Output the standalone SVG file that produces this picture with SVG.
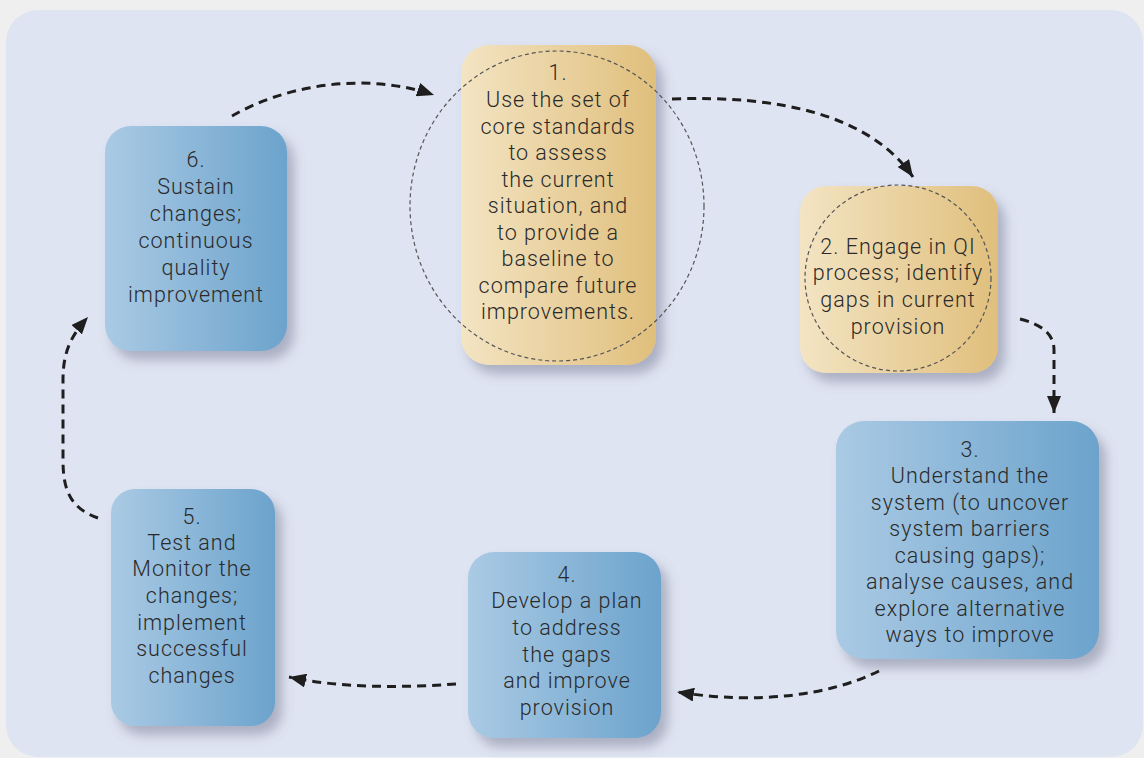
<svg xmlns="http://www.w3.org/2000/svg" width="1144" height="758" viewBox="0 0 1144 758">
<defs>
<linearGradient id="gold" x1="0" y1="0" x2="1" y2="0"><stop offset="0" stop-color="#f3e4c3"/><stop offset="1" stop-color="#e0bf7c"/></linearGradient>
<linearGradient id="blue" x1="0" y1="0" x2="1" y2="0"><stop offset="0" stop-color="#aacae4"/><stop offset="1" stop-color="#6ca3cc"/></linearGradient>
<filter id="sh" x="-20%" y="-20%" width="150%" height="150%"><feDropShadow dx="7" dy="9" stdDeviation="6" flood-color="#6a7088" flood-opacity="0.45"/></filter>
<marker id="ah" viewBox="0 0 17 14" refX="17" refY="7" markerWidth="17" markerHeight="14" markerUnits="userSpaceOnUse" orient="auto"><path d="M0,0 L17,7 L0,14 Z" fill="#1e1e1e"/></marker>
</defs>
<style>
.t{font-family:Roboto,"Noto Sans",sans-serif;font-size:21.5px;letter-spacing:1px;fill:#2a2a2a;text-anchor:middle;font-weight:300}
.c{fill:none;stroke:#1e1e1e;stroke-width:3;stroke-dasharray:9 6;marker-end:url(#ah)}
.ring{fill:none;stroke:#555;stroke-width:1.2;stroke-dasharray:4 3}
</style>
<rect width="1144" height="758" fill="#efefef"/>
<rect x="6" y="10" width="1137" height="747" rx="32" fill="#dfe4f2"/>
<g id="n1">
<rect x="461" y="45" width="195" height="320" rx="28" fill="url(#gold)" filter="url(#sh)"/>
<ellipse cx="557" cy="206" rx="147" ry="155" class="ring"/>
<text class="t"><tspan x="558" y="80">1.</tspan><tspan x="558" y="107">Use the set of</tspan><tspan x="558" y="134">core standards</tspan><tspan x="558" y="160">to assess</tspan><tspan x="558" y="187">the current</tspan><tspan x="558" y="213">situation, and</tspan><tspan x="558" y="240">to provide a</tspan><tspan x="558" y="266">baseline to</tspan><tspan x="558" y="293">compare future</tspan><tspan x="558" y="319">improvements.</tspan></text>
</g>
<g id="n2">
<rect x="800" y="186" width="198" height="187" rx="26" fill="url(#gold)" filter="url(#sh)"/>
<circle cx="898" cy="278" r="93" class="ring"/>
<text class="t"><tspan x="898" y="254">2. Engage in QI</tspan><tspan x="898" y="280">process; identify</tspan><tspan x="898" y="307">gaps in current</tspan><tspan x="898" y="334">provision</tspan></text>
</g>
<g id="n3">
<rect x="836" y="421" width="263" height="238" rx="28" fill="url(#blue)" filter="url(#sh)"/>
<text class="t"><tspan x="970" y="457">3.</tspan><tspan x="970" y="483">Understand the</tspan><tspan x="970" y="510">system (to uncover</tspan><tspan x="970" y="536">system barriers</tspan><tspan x="970" y="563">causing gaps);</tspan><tspan x="970" y="589">analyse causes, and</tspan><tspan x="970" y="616">explore alternative</tspan><tspan x="970" y="642">ways to improve</tspan></text>
</g>
<g id="n4">
<rect x="468" y="552" width="193" height="186" rx="26" fill="url(#blue)" filter="url(#sh)"/>
<text class="t"><tspan x="567" y="582">4.</tspan><tspan x="567" y="608">Develop a plan</tspan><tspan x="567" y="635">to address</tspan><tspan x="567" y="662">the gaps</tspan><tspan x="567" y="688">and improve</tspan><tspan x="567" y="715">provision</tspan></text>
</g>
<g id="n5">
<rect x="111" y="489" width="164" height="237" rx="24" fill="url(#blue)" filter="url(#sh)"/>
<text class="t"><tspan x="192" y="524">5.</tspan><tspan x="192" y="550">Test and</tspan><tspan x="192" y="576">Monitor the</tspan><tspan x="192" y="603">changes;</tspan><tspan x="192" y="630">implement</tspan><tspan x="192" y="656">successful</tspan><tspan x="192" y="683">changes</tspan></text>
</g>
<g id="n6">
<rect x="105" y="126" width="182" height="225" rx="26" fill="url(#blue)" filter="url(#sh)"/>
<text class="t"><tspan x="196" y="167">6.</tspan><tspan x="196" y="194">Sustain</tspan><tspan x="196" y="221">changes;</tspan><tspan x="196" y="248">continuous</tspan><tspan x="196" y="275">quality</tspan><tspan x="196" y="302">improvement</tspan></text>
</g>
<g id="connectors">
<path class="c" d="M232,116 C280,88 360,70 434,95"/>
<path class="c" d="M672,99 C780,95 870,115 913,177"/>
<path class="c" d="M1020,319 C1040,324 1054,333 1054,350 L1054,413"/>
<path class="c" d="M879,671 C830,695 760,705 677,692"/>
<path class="c" d="M456,684 C400,688 340,688 289,677"/>
<path class="c" d="M98,518 C70,508 63,490 63,460 L63,380 C63,350 72,335 88,317"/>
</g>
</svg>
